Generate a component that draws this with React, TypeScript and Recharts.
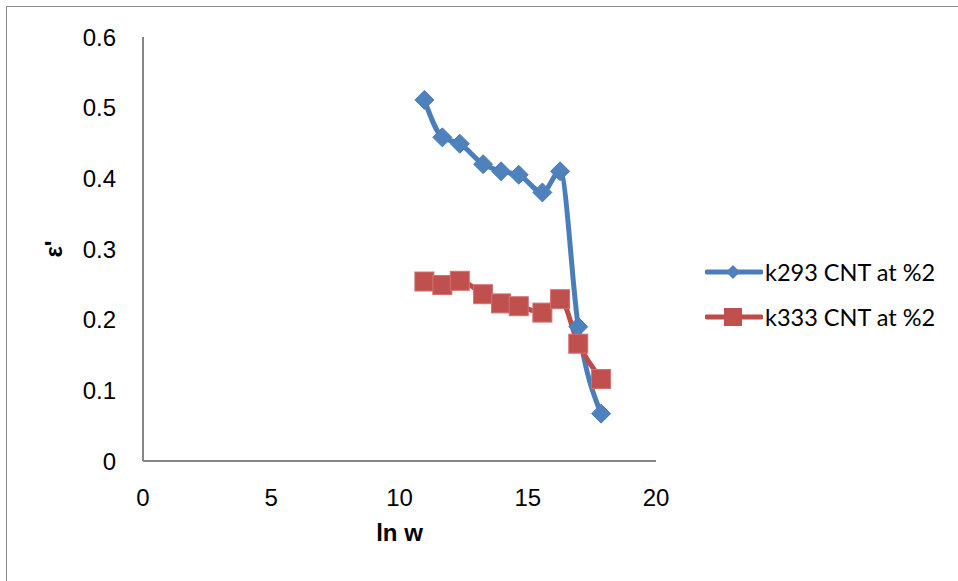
import React from "react";
import { LineChart, Line, XAxis, YAxis, Legend } from "recharts";

const lnW = [10.97, 11.67, 12.35, 13.26, 13.96, 14.65, 15.57, 16.26, 16.97, 17.86];
const k293 = [0.511, 0.458, 0.449, 0.42, 0.41, 0.405, 0.38, 0.41, 0.19, 0.067];
const k333 = [0.254, 0.249, 0.255, 0.236, 0.223, 0.219, 0.21, 0.229, 0.166, 0.116];
const xTicks = [0, 5, 10, 15, 20];
const yTicks = [0, 0.1, 0.2, 0.3, 0.4, 0.5, 0.6];
const seriesNames = ["k293 CNT at %2", "k333 CNT at %2"];

const data = lnW.map((x, i) => ({ x, a: k293[i], b: k333[i] }));

const BLUE = "#4A7EBB";
const BLUE_FILL = "#4F81BD";
const RED = "#BE4B48";
const RED_FILL = "#C0504D";

const Diamond = (props: any) => {
  const { cx, cy } = props;
  if (cx == null || cy == null) return <g />;
  const r = 9.5;
  return (
    <polygon
      points={`${cx},${cy - r} ${cx + r},${cy} ${cx},${cy + r} ${cx - r},${cy}`}
      fill={BLUE_FILL}
      stroke={BLUE}
      strokeWidth={1}
    />
  );
};

const Square = (props: any) => {
  const { cx, cy } = props;
  if (cx == null || cy == null) return <g />;
  const s = 19;
  return (
    <rect x={cx - s / 2} y={cy - s / 2} width={s} height={s} fill={RED_FILL} stroke="#D07270" strokeWidth={1} />
  );
};

const LegendContent = () => {
  const rows = [
    { name: seriesNames[0], color: BLUE, kind: "d" },
    { name: seriesNames[1], color: RED, kind: "s" },
  ];
  return (
    <div>
      {rows.map((r) => (
        <div key={r.name} style={{ display: "flex", alignItems: "center", height: 45 }}>
          <svg width={58} height={24}>
            <line x1={2} y1={12} x2={56} y2={12} stroke={r.color} strokeWidth={5} strokeLinecap="round" />
            {r.kind === "d" ? (
              <polygon points="28,5 35,12 28,19 21,12" fill={BLUE_FILL} />
            ) : (
              <rect x={19} y={3} width={18} height={18} fill={RED_FILL} />
            )}
          </svg>
          <span style={{ fontFamily: "Lato, 'Open Sans', sans-serif", fontSize: 23.5, color: "#000", marginLeft: 2, whiteSpace: "nowrap" }}>
            {r.name}
          </span>
        </div>
      ))}
    </div>
  );
};

const YLabel = (props: any) => {
  const vb = props.viewBox || {};
  const x = (vb.x || 0) + 62;
  const y = (vb.y || 0) + (vb.height || 0) / 2;
  return (
    <text x={x} y={y} transform={`rotate(-90, ${x}, ${y})`} textAnchor="middle" fontFamily="'Liberation Sans', Arial, sans-serif" fontWeight="bold" fontSize={24} fill="#000">
      ε'
    </text>
  );
};

const XLabel = (props: any) => {
  const vb = props.viewBox || {};
  const x = (vb.x || 0) + (vb.width || 0) / 2;
  const y = (vb.y || 0) + 80;
  return (
    <text x={x} y={y} textAnchor="middle" fontFamily="'Liberation Sans', Arial, sans-serif" fontWeight="bold" fontSize={24} fill="#000">
      ln w
    </text>
  );
};

export default function App() {
  const tickStyle = { fontFamily: "'Liberation Sans', Arial, sans-serif", fontSize: 24, fill: "#000" };
  return (
    <div style={{ position: "absolute", left: 0, top: 0, width: 958, height: 581, background: "#fff", overflow: "hidden" }}>
      <div style={{ position: "absolute", left: 6, top: 6, width: 1000, height: 1000, borderLeft: "1.5px solid #888", borderTop: "1.5px solid #888" }} />
      <LineChart width={958} height={581} data={data} margin={{ top: 37, right: 49, left: 0, bottom: 80 }}>
        <XAxis
          type="number"
          dataKey="x"
          domain={[0, 20]}
          ticks={xTicks}
          tickLine={false}
          tickSize={0}
          tickMargin={28}
          height={40}
          axisLine={{ stroke: "#868686", strokeWidth: 2 }}
          tick={tickStyle}
          label={<XLabel />}
        />
        <YAxis
          type="number"
          domain={[0, 0.6]}
          ticks={yTicks}
          tickLine={false}
          tickSize={0}
          tickMargin={27}
          width={143}
          axisLine={{ stroke: "#868686", strokeWidth: 2 }}
          tick={tickStyle}
          tickFormatter={(v: number) => String(Math.round(v * 10) / 10)}
          label={<YLabel />}
        />
        <Legend
          layout="vertical"
          align="right"
          verticalAlign="top"
          content={<LegendContent />}
          wrapperStyle={{ left: 705, top: 249, width: 253 }}
        />
        <Line
          type="monotone"
          dataKey="a"
          name={seriesNames[0]}
          stroke={BLUE}
          strokeWidth={5}
          dot={<Diamond />}
          activeDot={false}
          isAnimationActive={false}
        />
        <Line
          type="monotone"
          dataKey="b"
          name={seriesNames[1]}
          stroke={RED}
          strokeWidth={5}
          dot={<Square />}
          activeDot={false}
          isAnimationActive={false}
        />
      </LineChart>
    </div>
  );
}
